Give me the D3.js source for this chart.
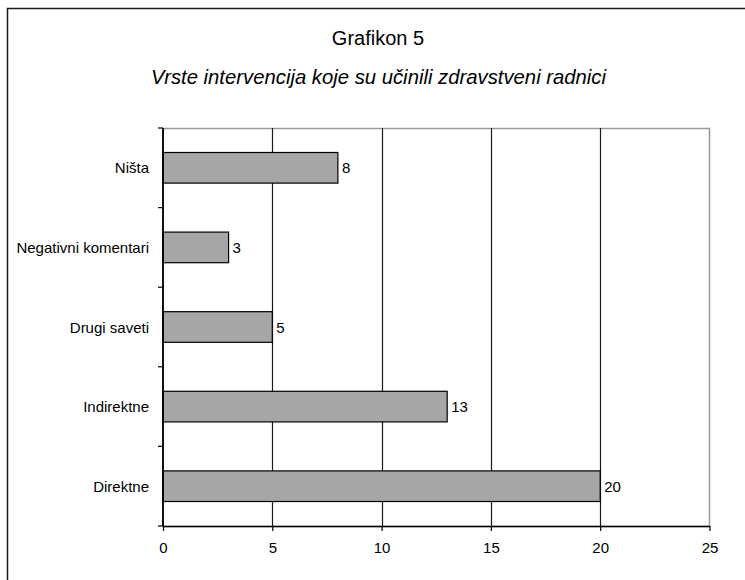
<!DOCTYPE html>
<html>
<head>
<meta charset="utf-8">
<script src="https://cdn.jsdelivr.net/npm/d3@7"></script>
<style>
  html, body { margin: 0; padding: 0; background: #fff; }
  svg { display: block; }
  text { font-family: "Liberation Sans", Arial, sans-serif; fill: #000; }
</style>
</head>
<body>
<svg id="chart" width="745" height="580"></svg>
<script>
const titleText = "Grafikon 5";
const subtitleText = "Vrste intervencija koje su učinili zdravstveni radnici";
const categories = ["Ništa", "Negativni komentari", "Drugi saveti", "Indirektne", "Direktne"];
const values = [8, 3, 5, 13, 20];
const xTicks = [0, 5, 10, 15, 20, 25];

const svg = d3.select("#chart");

// outer frame (extends beyond right/bottom edge)
svg.append("rect")
  .attr("x", 7.5).attr("y", 8.5)
  .attr("width", 760).attr("height", 600)
  .attr("fill", "none").attr("stroke", "#1a1a1a").attr("stroke-width", 1.5);

const pLeft = 163, pRight = 709.5, pTop = 128, pBottom = 526;

const x = d3.scaleLinear().domain([0, 25]).range([pLeft, pRight]);
const y = d3.scaleBand().domain(categories).range([pTop, pBottom]).padding(0);
const barH = y.bandwidth() / 2.6;

// title
svg.append("text")
  .attr("x", 378).attr("y", 45)
  .attr("text-anchor", "middle")
  .style("font-size", "20px")
  .text(titleText);
svg.append("text")
  .attr("x", 378.5).attr("y", 84)
  .attr("text-anchor", "middle")
  .style("font-size", "20.3px")
  .style("font-style", "italic")
  .text(subtitleText);

// plot border (gray)
svg.append("rect")
  .attr("x", pLeft).attr("y", pTop + 0.5)
  .attr("width", pRight - pLeft).attr("height", pBottom - pTop)
  .attr("fill", "none").attr("stroke", "#9a9a9a").attr("stroke-width", 1.5);

// gridlines
svg.append("g")
  .selectAll("line")
  .data(xTicks.filter(t => t > 0 && t < 25))
  .join("line")
  .attr("x1", d => Math.round(x(d)) + 0.5).attr("x2", d => Math.round(x(d)) + 0.5)
  .attr("y1", pTop).attr("y2", pBottom)
  .attr("stroke", "#1a1a1a").attr("stroke-width", 1.2);

// bars
svg.append("g")
  .selectAll("rect")
  .data(categories.map((c, i) => ({ c, v: values[i] })))
  .join("rect")
  .attr("x", x(0))
  .attr("y", d => y(d.c) + y.bandwidth() / 2 - barH / 2)
  .attr("width", d => x(d.v) - x(0))
  .attr("height", barH)
  .attr("fill", "#a6a6a6")
  .attr("stroke", "#000").attr("stroke-width", 1.2);

// value labels
svg.append("g")
  .selectAll("text")
  .data(categories.map((c, i) => ({ c, v: values[i] })))
  .join("text")
  .attr("x", d => x(d.v) + 4)
  .attr("y", d => y(d.c) + y.bandwidth() / 2 + 5.5)
  .style("font-size", "15px")
  .text(d => d.v);

// x axis
const xAxis = d3.axisBottom(x).tickValues(xTicks).tickSize(5).tickPadding(11).tickSizeOuter(0);
const gx = svg.append("g").attr("transform", `translate(0,${pBottom})`).call(xAxis);
gx.select(".domain").attr("stroke", "#000").attr("stroke-width", 1.5);
gx.selectAll(".tick line").attr("stroke", "#000").attr("stroke-width", 1.2);
gx.selectAll(".tick text")
  .style("font-family", '"Liberation Sans", Arial, sans-serif')
  .style("font-size", "15px").attr("fill", "#000");

// y axis: ticks at band boundaries
const boundaries = categories.map(c => y(c)).concat([pBottom]);
svg.append("g")
  .selectAll("line")
  .data(boundaries)
  .join("line")
  .attr("x1", pLeft - 5).attr("x2", pLeft)
  .attr("y1", d => d).attr("y2", d => d)
  .attr("stroke", "#000").attr("stroke-width", 1.2);
svg.append("line")
  .attr("x1", pLeft).attr("x2", pLeft)
  .attr("y1", pTop).attr("y2", pBottom)
  .attr("stroke", "#000").attr("stroke-width", 1.8);

// category labels
svg.append("g")
  .selectAll("text")
  .data(categories)
  .join("text")
  .attr("x", 149)
  .attr("y", d => y(d) + y.bandwidth() / 2 + 5.5)
  .attr("text-anchor", "end")
  .style("font-size", "15px")
  .text(d => d);
</script>
</body>
</html>
